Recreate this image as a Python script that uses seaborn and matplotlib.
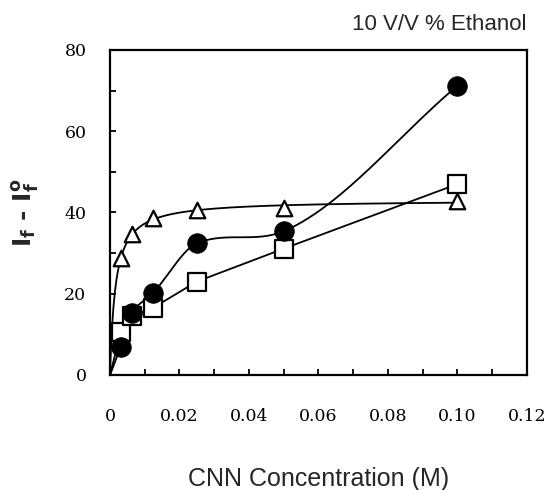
import numpy as np
import pandas as pd
import matplotlib
matplotlib.use("Agg")
import matplotlib.pyplot as plt
from matplotlib.ticker import MultipleLocator, FixedFormatter, FixedLocator
import seaborn as sns

# CNN concentration (M) for every series
conc = [0.003125, 0.00625, 0.0125, 0.025, 0.05, 0.10]
# If - If0
circles = [7.0, 15.2, 20.3, 32.4, 35.4, 71.2]
squares = [10.6, 14.4, 16.6, 23.0, 31.1, 47.0]
triangles = [28.7, 34.6, 38.6, 40.6, 41.0, 42.8]

xticks = [0, 0.02, 0.04, 0.06, 0.08, 0.10, 0.12]
xtick_labels = ["0", "0.02", "0.04", "0.06", "0.08", "0.10", "0.12"]
yticks = [0, 20, 40, 60, 80]


def smooth_curve(x, y, xs):
    # akima style slopes, limited so the curve never turns back
    x = np.asarray(x, float)
    y = np.asarray(y, float)
    h = np.diff(x)
    m = np.diff(y) / h
    n = len(x)
    # two extra slopes at each end, as akima does
    mm = np.concatenate([[3 * m[0] - 2 * m[1], 2 * m[0] - m[1]], m,
                         [2 * m[-1] - m[-2], 3 * m[-1] - 2 * m[-2]]])
    d = np.zeros(n)
    d[0] = m[0]
    d[-1] = m[-1]
    for k in range(1, n - 1):
        j = k + 2  # mm index of slope right of point k
        w1 = abs(mm[j + 1] - mm[j])
        w2 = abs(mm[j - 1] - mm[j - 2])
        if w1 + w2 == 0:
            d[k] = 0.5 * (mm[j - 1] + mm[j])
        else:
            d[k] = (w1 * mm[j - 1] + w2 * mm[j]) / (w1 + w2)
        d[k] = min(d[k], 3 * min(m[k - 1], m[k]))
    idx = np.clip(np.searchsorted(x, xs) - 1, 0, n - 2)
    t = (xs - x[idx]) / h[idx]
    h00 = 2 * t ** 3 - 3 * t ** 2 + 1
    h10 = t ** 3 - 2 * t ** 2 + t
    h01 = -2 * t ** 3 + 3 * t ** 2
    h11 = t ** 3 - t ** 2
    return (h00 * y[idx] + h10 * h[idx] * d[idx]
            + h01 * y[idx + 1] + h11 * h[idx] * d[idx + 1])


# fitted curves, all starting from the origin
xs = np.linspace(0, 0.10, 500)
circ_fit = smooth_curve([0] + conc, [0] + circles, xs)

# saturation fit for the triangles (linearised 1/y against 1/x)
cx = np.array(conc)
ty = np.array(triangles)
slope, icpt = np.polyfit(1 / cx, 1 / ty, 1)
ymax = 1 / icpt
kd = slope * ymax
tri_fit = ymax * xs / (kd + xs)

sq_line = pd.DataFrame({"x": [0] + conc, "y": [0] + squares})

sns.set_style("ticks")
plt.rcParams["font.family"] = ["DejaVu Serif"]

fig = plt.figure(figsize=(5.47, 4.9), dpi=100)
ax = fig.add_axes([0.2011, 0.2347, 0.7623, 0.6633])

lw = 1.3
sns.lineplot(x=xs, y=circ_fit, color="black", lw=lw, ax=ax, sort=False)
sns.lineplot(x=xs, y=tri_fit, color="black", lw=lw, ax=ax, sort=False)
sns.lineplot(data=sq_line, x="x", y="y", color="black", lw=lw, ax=ax, sort=False)

sns.scatterplot(x=conc, y=squares, marker="s", s=150, color="white",
                edgecolor="black", linewidth=1.6, ax=ax, zorder=3)
sns.scatterplot(x=conc, y=triangles, marker="^", s=125, color="white",
                edgecolor="black", linewidth=1.6, ax=ax, zorder=3)
sns.scatterplot(x=conc, y=circles, marker="o", s=200, color="black",
                edgecolor="black", linewidth=0.5, ax=ax, zorder=4)

ax.set_xlim(0, 0.12)
ax.set_ylim(0, 80)
ax.xaxis.set_major_locator(FixedLocator(xticks))
ax.xaxis.set_major_formatter(FixedFormatter(xtick_labels))
ax.xaxis.set_minor_locator(MultipleLocator(0.01))
ax.yaxis.set_major_locator(FixedLocator(yticks))
ax.yaxis.set_minor_locator(MultipleLocator(10))
ax.tick_params(which="both", direction="in", width=1.3, length=4,
               labelsize=12.5, colors="black")
ax.tick_params(axis="x", which="major", pad=24)
ax.tick_params(axis="y", which="major", pad=17)
for sp in ax.spines.values():
    sp.set_visible(True)
    sp.set_linewidth(1.6)
    sp.set_color("black")

ax.set_xlabel("CNN Concentration (M)", fontsize=18, family="Liberation Sans")
ax.xaxis.set_label_coords(0.5, -0.283)
ax.set_ylabel(r"$\mathbf{I_f}$ - $\mathbf{I_f^o}$", fontsize=18, family="DejaVu Sans",
              fontweight="bold")
ax.yaxis.set_label_coords(-0.165, 0.5)
fig.text(527 / 547, 1 - 25 / 490, "10 V/V % Ethanol", ha="right", va="center",
         fontsize=16, family="Liberation Sans")

fig.savefig("out.png", dpi=100)
